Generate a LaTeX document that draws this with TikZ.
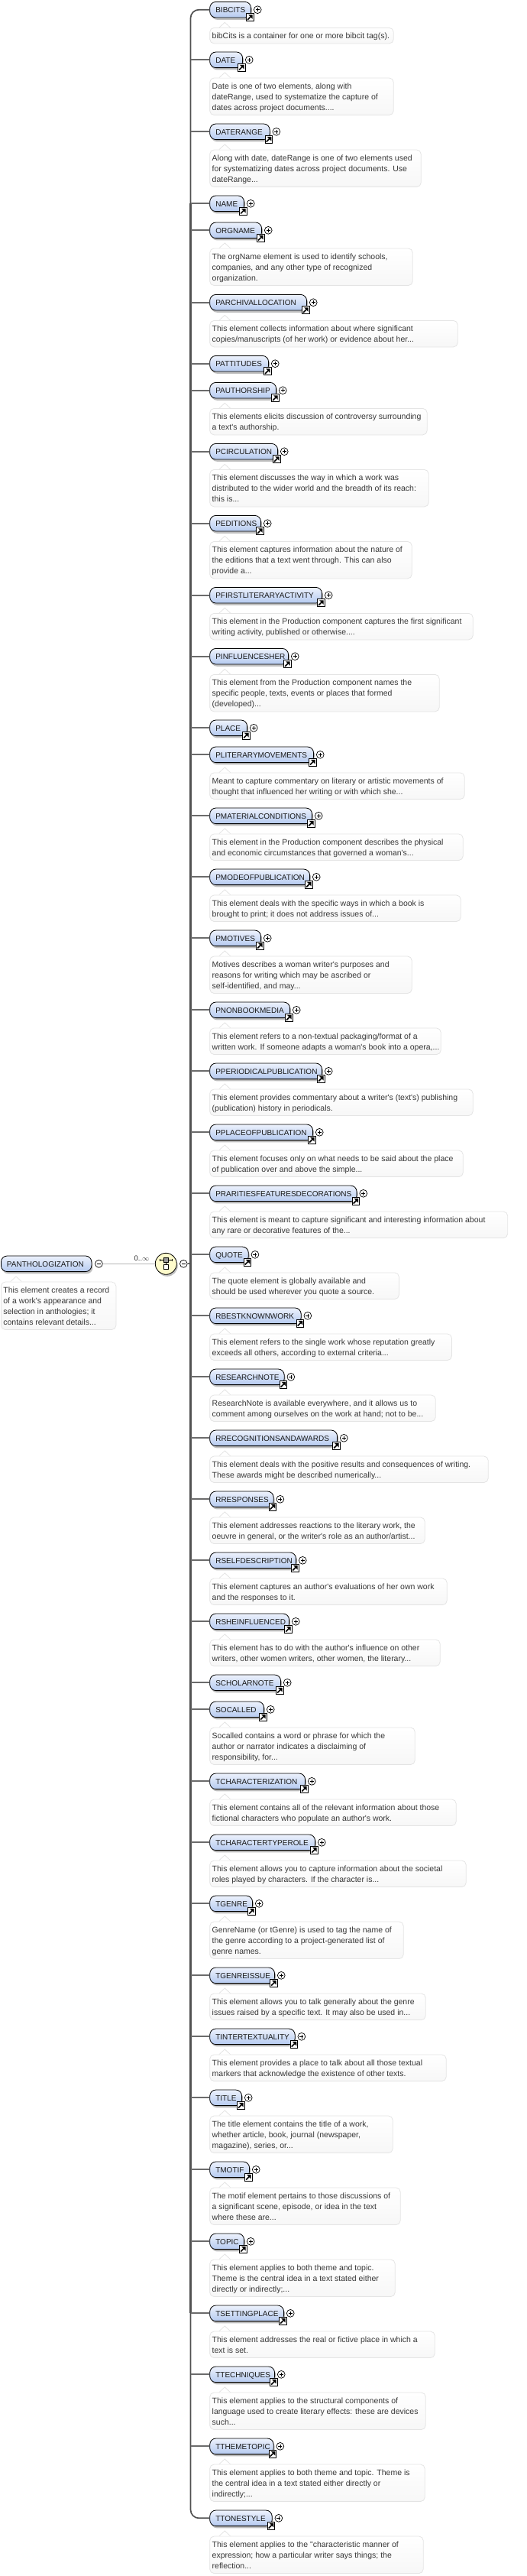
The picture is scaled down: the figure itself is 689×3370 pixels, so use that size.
\documentclass[tikz,border=0pt]{standalone}
\usepackage{fontspec}
\defaultfontfeatures[\rmfamily]{Scale=1}
\setmainfont{Liberation Sans}
\usepackage{xcolor}
\usetikzlibrary{positioning, shadows, calc}

\definecolor{pilltop}{HTML}{EDF2FC}
\definecolor{pillbot}{HTML}{B5CAF0}
\definecolor{noteline}{HTML}{E4E4E4}
\definecolor{notebot}{HTML}{F7F7F7}
\definecolor{seqfill}{HTML}{FEFBCB}

\newcommand{\elemrow}[4]{%
  \node[elemnode, text width=#4pt-16pt] (#1) at (274.3,#2) {\mbox{#3}};
  \node[linkbox] (#1l) at ($(#1.east)+(-1.7,10)$) {};
  \node[plusbox, right=3pt of #1] (#1p) {};
}
\newcommand{\noterow}[3]{%
  \node[notenode] (#1n) at ($(#1.west)+(0,23.3)$) {\parbox[t]{\dimexpr#2pt-.8pt}{\raggedright\leftskip=3pt\rule{0pt}{10.75pt}#3\rule[-3.25pt]{0pt}{3.25pt}}};
  \draw[notetip] ($(#1n.north west)+(12.7,0)$) -- ++(7.3,-6.7) -- ++(7.3,6.7);
}

\begin{document}
\begin{tikzpicture}[
  x=1pt, y=-1pt,
  elemnode/.style={draw=black, line width=.8pt, rounded corners=8pt, top color=pilltop, bottom color=pillbot,
    minimum height=20.6pt, inner xsep=7.6pt, inner ysep=0pt, align=left, anchor=west, text height=7.5pt, text depth=0pt,
    font=\fontsize{10}{12}\selectfont, text=black!90,
    drop shadow={shadow xshift=1.5pt, shadow yshift=-2.8pt, opacity=.25, fill=black}},
  notenode/.style={draw=noteline, line width=.8pt, rounded corners=5.5pt, top color=white, bottom color=notebot,
    inner xsep=0pt, inner ysep=3.25pt, anchor=north west,
    font=\fontsize{10.5}{14}\selectfont, text=black!78},
  notetip/.style={draw=noteline, line width=.8pt, fill=white},
  linkbox/.style={draw=black, line width=1pt, fill=white, minimum size=9.6pt, inner sep=0pt,
    path picture={
      \draw[line width=1.6pt] ($(path picture bounding box.center)+(-3.2pt,-3.2pt)$) -- ++(4pt,4pt);
      \fill[black] ($(path picture bounding box.center)+(3.4pt,3.4pt)$) -- ++(-5.6pt,0pt) -- ++(5.6pt,-5.6pt) -- cycle;
    }},
  plusbox/.style={circle, draw=black, line width=.7pt, fill=white, minimum size=9.8pt, inner sep=0pt,
    path picture={
      \draw[line width=.7pt] ($(path picture bounding box.center)+(-2.5pt,0pt)$) -- ++(5pt,0pt);
      \draw[line width=.7pt] ($(path picture bounding box.center)+(0pt,-2.5pt)$) -- ++(0pt,5pt);
    }},
  minusbox/.style={circle, draw=black, line width=.7pt, fill=white, minimum size=9.8pt, inner sep=0pt,
    path picture={
      \draw[line width=.7pt] ($(path picture bounding box.center)+(-2.5pt,0pt)$) -- ++(5pt,0pt);
    }},
  seqnode/.style={circle, draw=black, line width=.8pt, fill=seqfill, minimum size=28pt, inner sep=0pt,
    drop shadow={shadow xshift=1.5pt, shadow yshift=-2.5pt, opacity=.25, fill=black},
    path picture={
      \coordinate (pc) at (path picture bounding box.center);
      \draw[line width=.7pt] ($(pc)+(-8.3pt,5pt)$) -- ++(16.6pt,0pt);
      \draw[line width=.7pt] ($(pc)+(-8.3pt,6.7pt)$) -- ++(0pt,-3.4pt);
      \draw[line width=.7pt] ($(pc)+(8.3pt,6.7pt)$) -- ++(0pt,-3.4pt);
      \draw[line width=.7pt] ($(pc)+(0pt,5pt)$) -- ++(0pt,-8pt);
      \draw[line width=.7pt, fill=black!40] ($(pc)+(-3.4pt,1.9pt)$) rectangle ++(6.8pt,6.2pt);
      \draw[line width=.7pt, fill=white] ($(pc)+(-3.4pt,-1pt)$) rectangle ++(6.8pt,-6.4pt);
    }},
  trunk/.style={draw=black!68, line width=1.7pt, rounded corners=11pt},
  trunkmid/.style={draw=black!68, line width=2.8pt},
  stem/.style={draw=black!58, line width=1.7pt},
  rootline/.style={draw=black!28, line width=.9pt},
]
\useasboundingbox (0,0) rectangle (689,3370);
\coordinate (spine) at (249.5,1653.3);

% Root element
\node[elemnode, text width=119.3pt-16pt] (panthologization) at (1,1653.3) {\mbox{PANTHOLOGIZATION}};
\node[minusbox, right=3.9pt of panthologization] (pantminus) {};
\noterow{panthologization}{151.3}{This element creates a record\\of a work's appearance and\\selection in anthologies; it\\contains relevant details...}
\node[seqnode] (seq) at (217.3,1653.3) {};
\node[minusbox, right=3.4pt of seq] (seqminus) {};
\draw[rootline] (pantminus) -- (seq);
\node[font=\fontsize{9.5}{11}\selectfont, text=black!80, inner sep=0pt] (occurs) at (185.5,1646) {0..$\infty$};
\draw[stem] (seqminus) -- (spine);

% Child elements
\elemrow{bibcits}{12.7}{BIBCITS}{54.7}
\noterow{bibcits}{241.3}{bibCits is a container for one or more bibcit tag(s).}
\elemrow{date}{78.3}{DATE}{43.7}
\noterow{date}{241.3}{Date is one of two elements, along with\\dateRange, used to systematize the capture of\\dates across project documents....}
\elemrow{daterange}{172.3}{DATERANGE}{79.3}
\noterow{daterange}{277.3}{Along with date, dateRange is one of two elements used\\for systematizing dates across project documents. Use\\dateRange...}
\elemrow{name}{266.3}{NAME}{45.7}
\elemrow{orgname}{301.3}{ORGNAME}{68.7}
\noterow{orgname}{266.3}{The orgName element is used to identify schools,\\companies, and any other type of recognized\\organization.}
\elemrow{parchivallocation}{395.7}{PARCHIVALLOCATION}{127.7}
\noterow{parchivallocation}{325.3}{This element collects information about where significant\\copies/manuscripts (of her work) or evidence about her...}
\elemrow{pattitudes}{475.7}{PATTITUDES}{77.7}
\elemrow{pauthorship}{510.7}{PAUTHORSHIP}{87.7}
\noterow{pauthorship}{285.3}{This elements elicits discussion of controversy surrounding\\a text's authorship.}
\elemrow{pcirculation}{590.7}{PCIRCULATION}{89.7}
\noterow{pcirculation}{287.3}{This element discusses the way in which a work was\\distributed to the wider world and the breadth of its reach:\\this is...}
\elemrow{peditions}{684.7}{PEDITIONS}{67.7}
\noterow{peditions}{265.3}{This element captures information about the nature of\\the editions that a text went through. This can also\\provide a...}
\elemrow{pfirstliteraryactivity}{778.7}{PFIRSTLITERARYACTIVITY}{147.7}
\noterow{pfirstliteraryactivity}{345.3}{This element in the Production component captures the first significant\\writing activity, published or otherwise....}
\elemrow{pinfluencesher}{858.7}{PINFLUENCESHER}{103.7}
\noterow{pinfluencesher}{301.3}{This element from the Production component names the\\specific people, texts, events or places that formed\\(developed)...}
\elemrow{place}{952.3}{PLACE}{49.7}
\elemrow{pliterarymovements}{987.3}{PLITERARYMOVEMENTS}{136.7}
\noterow{pliterarymovements}{334.3}{Meant to capture commentary on literary or artistic movements of\\thought that influenced her writing or with which she...}
\elemrow{pmaterialconditions}{1067.3}{PMATERIALCONDITIONS}{134.7}
\noterow{pmaterialconditions}{332.3}{This element in the Production component describes the physical\\and economic circumstances that governed a woman's...}
\elemrow{pmodeofpublication}{1147.3}{PMODEOFPUBLICATION}{131.7}
\noterow{pmodeofpublication}{329.3}{This element deals with the specific ways in which a book is\\brought to print; it does not address issues of...}
\elemrow{pmotives}{1227.3}{PMOTIVES}{67.7}
\noterow{pmotives}{265.3}{Motives describes a woman writer's purposes and\\reasons for writing which may be ascribed or\\self-identified, and may...}
\elemrow{pnonbookmedia}{1321.3}{PNONBOOKMEDIA}{105.7}
\noterow{pnonbookmedia}{303.3}{This element refers to a non-textual packaging/format of a\\written work. If someone adapts a woman's book into a opera,...}
\elemrow{pperiodicalpublication}{1401.3}{PPERIODICALPUBLICATION}{147.7}
\noterow{pperiodicalpublication}{345.3}{This element provides commentary about a writer's (text's) publishing\\(publication) history in periodicals.}
\elemrow{pplaceofpublication}{1481.3}{PPLACEOFPUBLICATION}{135.7}
\noterow{pplaceofpublication}{332.4}{This element focuses only on what needs to be said about the place\\of publication over and above the simple...}
\elemrow{prarities}{1561.3}{PRARITIESFEATURESDECORATIONS}{193.2}
\noterow{prarities}{390.8}{This element is meant to capture significant and interesting information about\\any rare or decorative features of the...}
\elemrow{quote}{1641.3}{QUOTE}{51.4}
\noterow{quote}{248.5}{The quote element is globally available and\\should be used wherever you quote a source.}
\elemrow{rbestknownwork}{1721.3}{RBESTKNOWNWORK}{120.3}
\noterow{rbestknownwork}{317.5}{This element refers to the single work whose reputation greatly\\exceeds all others, according to external criteria...}
\elemrow{researchnote}{1801.3}{RESEARCHNOTE}{98.3}
\noterow{researchnote}{296.3}{ResearchNote is available everywhere, and it allows us to\\comment among ourselves on the work at hand; not to be...}
\elemrow{rrecognitionsandawards}{1881.3}{RRECOGNITIONSANDAWARDS}{167.7}
\noterow{rrecognitionsandawards}{365.3}{This element deals with the positive results and consequences of writing.\\These awards might be described numerically...}
\elemrow{rresponses}{1961.3}{RRESPONSES}{84.3}
\noterow{rresponses}{282.3}{This element addresses reactions to the literary work, the\\oeuvre in general, or the writer's role as an author/artist...}
\elemrow{rselfdescription}{2041.3}{RSELFDESCRIPTION}{113.7}
\noterow{rselfdescription}{311.3}{This element captures an author's evaluations of her own work\\and the responses to it.}
\elemrow{rsheinfluenced}{2121.3}{RSHEINFLUENCED}{104.7}
\noterow{rsheinfluenced}{302.3}{This element has to do with the author's influence on other\\writers, other women writers, other women, the literary...}
\elemrow{scholarnote}{2201.3}{SCHOLARNOTE}{93.7}
\elemrow{socalled}{2236.3}{SOCALLED}{71.7}
\noterow{socalled}{269.3}{Socalled contains a word or phrase for which the\\author or narrator indicates a disclaiming of\\responsibility, for...}
\elemrow{tcharacterization}{2330.3}{TCHARACTERIZATION}{125.7}
\noterow{tcharacterization}{323.3}{This element contains all of the relevant information about those\\fictional characters who populate an author's work.}
\elemrow{tcharactertyperole}{2410.3}{TCHARACTERTYPEROLE}{138.7}
\noterow{tcharactertyperole}{336.3}{This element allows you to capture information about the societal\\roles played by characters. If the character is...}
\elemrow{tgenre}{2490.3}{TGENRE}{56.7}
\noterow{tgenre}{254.3}{GenreName (or tGenre) is used to tag the name of\\the genre according to a project-generated list of\\genre names.}
\elemrow{tgenreissue}{2584.3}{TGENREISSUE}{85.7}
\noterow{tgenreissue}{283.3}{This element allows you to talk generally about the genre\\issues raised by a specific text. It may also be used in...}
\elemrow{tintertextuality}{2664.3}{TINTERTEXTUALITY}{112.3}
\noterow{tintertextuality}{310.3}{This element provides a place to talk about all those textual\\markers that acknowledge the existence of other texts.}
\elemrow{title}{2744.3}{TITLE}{42.7}
\noterow{title}{240.3}{The title element contains the title of a work,\\whether article, book, journal (newspaper,\\magazine), series, or...}
\elemrow{tmotif}{2838.3}{TMOTIF}{52.7}
\noterow{tmotif}{250.3}{The motif element pertains to those discussions of\\a significant scene, episode, or idea in the text\\where these are...}
\elemrow{topic}{2932.3}{TOPIC}{45.7}
\noterow{topic}{243.3}{This element applies to both theme and topic.\\Theme is the central idea in a text stated either\\directly or indirectly;...}
\elemrow{tsettingplace}{3026.3}{TSETTINGPLACE}{97.7}
\noterow{tsettingplace}{295.3}{This element addresses the real or fictive place in which a\\text is set.}
\elemrow{ttechniques}{3106.3}{TTECHNIQUES}{85.7}
\noterow{ttechniques}{283.3}{This element applies to the structural components of\\language used to create literary effects: these are devices\\such...}
\elemrow{tthemetopic}{3200.3}{TTHEMETOPIC}{84.3}
\noterow{tthemetopic}{282.3}{This element applies to both theme and topic. Theme is\\the central idea in a text stated either directly or\\indirectly;...}
\elemrow{ttonestyle}{3294.3}{TTONESTYLE}{82.3}
\noterow{ttonestyle}{280.3}{This element applies to the "characteristic manner of\\expression; how a particular writer says things; the\\reflection...}

% Spine and stems
\draw[trunk] (bibcits) -| (spine) |- (ttonestyle);
\draw[trunkmid] (spine |- name) -- (spine |- tsettingplace);
\foreach \n in {date,daterange,name,orgname,parchivallocation,pattitudes,pauthorship,pcirculation,peditions,
  pfirstliteraryactivity,pinfluencesher,place,pliterarymovements,pmaterialconditions,pmodeofpublication,pmotives,
  pnonbookmedia,pperiodicalpublication,pplaceofpublication,prarities,quote,rbestknownwork,researchnote,
  rrecognitionsandawards,rresponses,rselfdescription,rsheinfluenced,scholarnote,socalled,tcharacterization,
  tcharactertyperole,tgenre,tgenreissue,tintertextuality,title,tmotif,topic,tsettingplace,ttechniques,tthemetopic}
  \draw[stem] (spine |- \n) -- (\n);
\end{tikzpicture}
\end{document}
